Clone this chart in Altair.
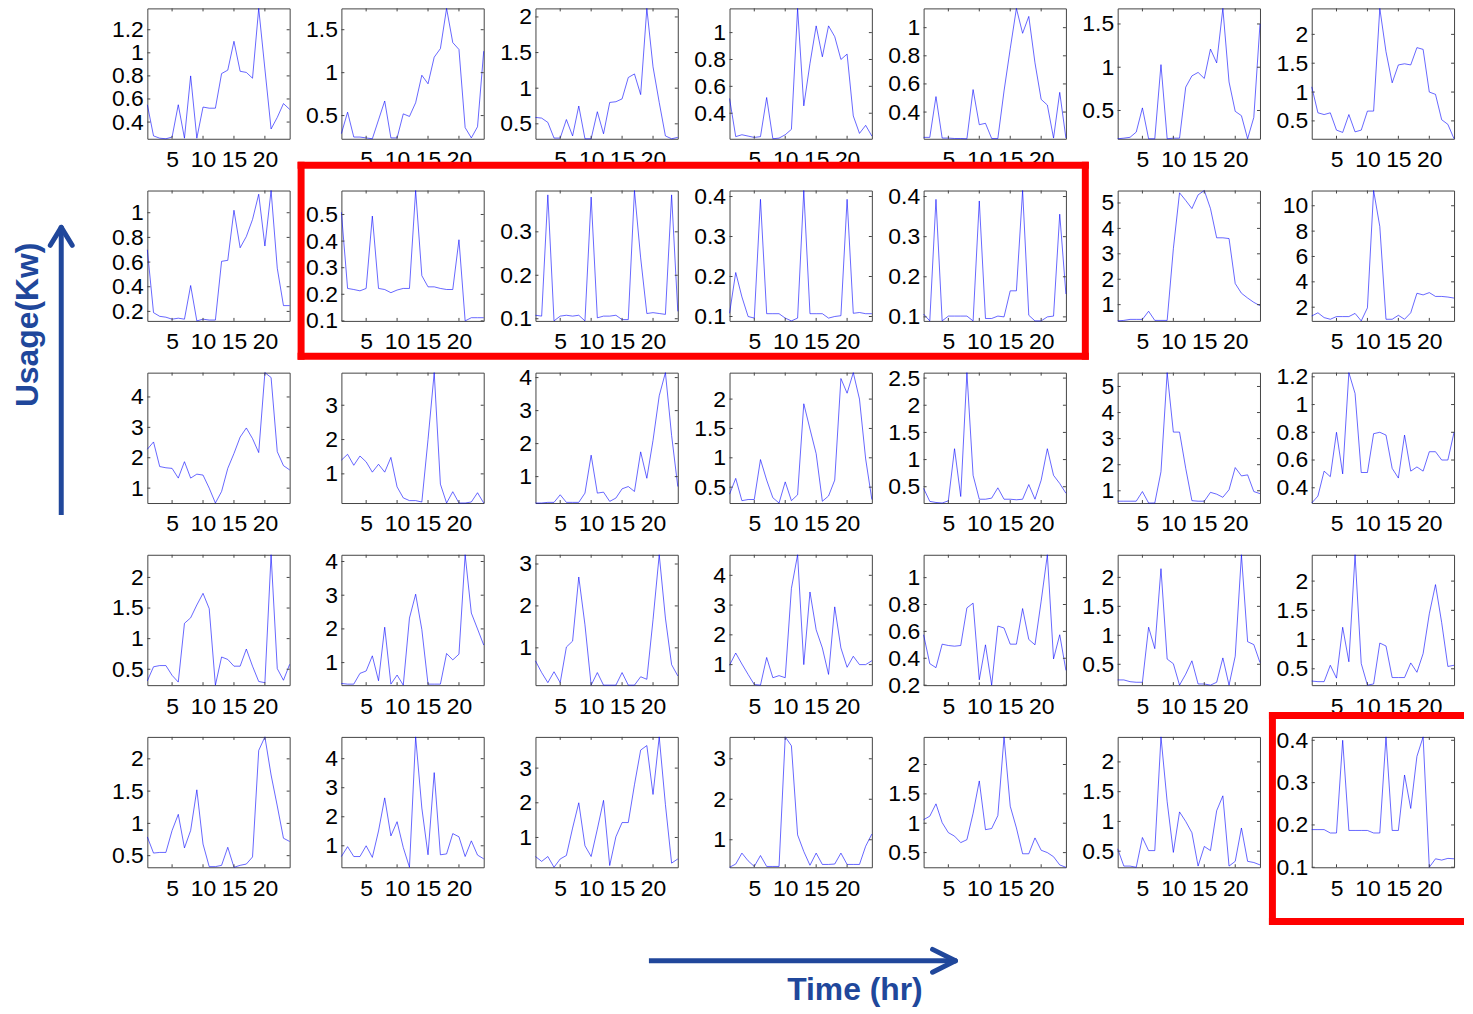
import altair as alt
import pandas as pd

HOURS = list(range(1, 25))
X_TICKS = [5, 10, 15, 20]

# ---- hourly usage (kW) for each of the 35 small panels, row by row ----
p01 = [0.55, 0.28, 0.26, 0.255, 0.27, 0.55, 0.26, 0.80, 0.26, 0.53, 0.52, 0.52, 0.82, 0.85, 1.10, 0.84, 0.83, 0.78, 1.385, 0.86, 0.34, 0.44, 0.56, 0.51]
p02 = [0.29, 0.54, 0.25, 0.25, 0.24, 0.23, 0.45, 0.67, 0.24, 0.24, 0.52, 0.49, 0.65, 0.97, 0.87, 1.18, 1.28, 1.748, 1.35, 1.27, 0.36, 0.24, 0.37, 1.25]
p03 = [0.59, 0.58, 0.52, 0.30, 0.30, 0.56, 0.33, 0.75, 0.29, 0.29, 0.67, 0.36, 0.80, 0.81, 0.85, 1.15, 1.20, 0.91, 2.12, 1.30, 0.80, 0.33, 0.29, 0.31]
p04 = [0.51, 0.226, 0.24, 0.23, 0.22, 0.226, 0.517, 0.21, 0.215, 0.24, 0.28, 1.18, 0.455, 0.77, 1.05, 0.82, 1.05, 0.97, 0.80, 0.84, 0.38, 0.25, 0.31, 0.23]
p05 = [0.22, 0.22, 0.51, 0.215, 0.215, 0.212, 0.212, 0.21, 0.56, 0.31, 0.32, 0.212, 0.212, 0.55, 0.85, 1.137, 0.96, 1.08, 0.75, 0.49, 0.45, 0.215, 0.54, 0.215]
p06 = [0.173, 0.18, 0.19, 0.25, 0.53, 0.173, 0.173, 1.03, 0.173, 0.18, 0.18, 0.77, 0.90, 0.94, 0.87, 1.21, 1.05, 1.68, 0.83, 0.49, 0.44, 0.173, 0.42, 1.5]
p07 = [1.09, 0.64, 0.61, 0.64, 0.34, 0.30, 0.61, 0.31, 0.34, 0.67, 0.67, 2.45, 1.70, 1.16, 1.47, 1.49, 1.47, 1.77, 1.74, 1.00, 0.96, 0.52, 0.44, 0.19]

p08 = [0.70, 0.19, 0.16, 0.153, 0.137, 0.145, 0.137, 0.41, 0.123, 0.137, 0.13, 0.13, 0.606, 0.614, 1.02, 0.716, 0.807, 0.945, 1.15, 0.73, 1.18, 0.55, 0.247, 0.247]
p09 = [0.508, 0.222, 0.218, 0.213, 0.222, 0.494, 0.222, 0.218, 0.206, 0.216, 0.222, 0.222, 0.59, 0.27, 0.228, 0.228, 0.222, 0.218, 0.218, 0.405, 0.10, 0.112, 0.112, 0.112]
p10 = [0.108, 0.106, 0.385, 0.095, 0.106, 0.108, 0.106, 0.108, 0.095, 0.38, 0.102, 0.106, 0.106, 0.108, 0.098, 0.098, 0.395, 0.24, 0.112, 0.114, 0.112, 0.11, 0.385, 0.117]
p11 = [0.108, 0.21, 0.149, 0.10, 0.096, 0.393, 0.107, 0.107, 0.107, 0.096, 0.089, 0.096, 0.415, 0.107, 0.107, 0.107, 0.096, 0.10, 0.102, 0.393, 0.108, 0.11, 0.107, 0.107]
p12 = [0.107, 0.09, 0.393, 0.09, 0.102, 0.102, 0.102, 0.102, 0.09, 0.389, 0.096, 0.096, 0.102, 0.10, 0.165, 0.165, 0.415, 0.104, 0.09, 0.09, 0.10, 0.102, 0.356, 0.157]
p13 = [0.36, 0.38, 0.42, 0.42, 0.42, 0.74, 0.38, 0.38, 0.38, 3.2, 5.40, 5.10, 4.78, 5.32, 5.49, 4.78, 3.63, 3.63, 3.60, 1.83, 1.45, 1.26, 1.09, 0.96]
p14 = [1.31, 1.56, 1.18, 1.05, 1.26, 1.26, 1.26, 1.51, 0.92, 1.95, 11.2, 8.36, 1.05, 1.05, 1.36, 1.05, 1.56, 3.10, 2.97, 3.15, 2.85, 2.85, 2.80, 2.72]

p15 = [2.28, 2.52, 1.71, 1.67, 1.65, 1.33, 1.87, 1.33, 1.46, 1.43, 1.00, 0.51, 0.89, 1.65, 2.14, 2.68, 2.98, 2.63, 2.17, 4.80, 4.64, 2.20, 1.74, 1.60]
p16 = [1.40, 1.57, 1.25, 1.52, 1.35, 1.05, 1.28, 1.05, 1.48, 0.62, 0.30, 0.22, 0.22, 0.18, 2.0, 3.95, 0.70, 0.15, 0.48, 0.15, 0.15, 0.18, 0.45, 0.15]
p17 = [0.20, 0.20, 0.22, 0.22, 0.45, 0.22, 0.22, 0.22, 0.50, 1.65, 0.50, 0.53, 0.25, 0.35, 0.63, 0.70, 0.55, 1.75, 0.95, 2.10, 3.45, 4.15, 2.25, 0.70]
p18 = [0.38, 0.65, 0.27, 0.29, 0.29, 0.97, 0.62, 0.32, 0.23, 0.59, 0.27, 0.37, 1.92, 1.49, 1.07, 0.26, 0.35, 0.62, 2.35, 2.10, 2.45, 2.0, 0.98, 0.29]
p19 = [0.47, 0.23, 0.21, 0.20, 0.24, 1.20, 0.32, 2.60, 0.71, 0.27, 0.27, 0.29, 0.48, 0.27, 0.27, 0.26, 0.27, 0.54, 0.27, 0.62, 1.20, 0.71, 0.56, 0.38]
p20 = [0.60, 0.60, 0.60, 0.60, 0.97, 0.53, 0.53, 1.73, 5.53, 3.25, 3.25, 1.86, 0.62, 0.60, 0.60, 0.94, 0.87, 0.75, 1.04, 1.89, 1.57, 1.61, 0.97, 0.89]
p21 = [0.29, 0.34, 0.52, 0.48, 0.80, 0.50, 1.23, 1.08, 0.51, 0.51, 0.79, 0.80, 0.78, 0.54, 0.47, 0.78, 0.52, 0.55, 0.52, 0.66, 0.66, 0.60, 0.60, 0.80]

p22 = [0.31, 0.54, 0.56, 0.56, 0.40, 0.29, 1.25, 1.34, 1.55, 1.74, 1.49, 0.24, 0.70, 0.66, 0.55, 0.55, 0.83, 0.55, 0.30, 0.28, 2.37, 0.51, 0.32, 0.58]
p23 = [0.38, 0.36, 0.36, 0.68, 0.75, 1.20, 0.46, 2.05, 0.36, 0.63, 0.33, 2.32, 3.03, 1.98, 0.36, 0.36, 0.36, 1.27, 1.08, 1.25, 4.20, 2.47, 2.00, 1.52]
p24 = [0.69, 0.41, 0.17, 0.43, 0.17, 1.02, 1.16, 2.69, 1.55, 0.11, 0.41, 0.11, 0.11, 0.11, 0.41, 0.11, 0.11, 0.31, 0.25, 1.67, 3.22, 1.71, 0.60, 0.33]
p25 = [0.98, 1.39, 1.02, 0.67, 0.33, 0.31, 1.24, 0.56, 0.63, 0.56, 3.56, 4.69, 1.0, 3.44, 2.17, 1.56, 0.67, 2.94, 1.56, 0.91, 1.28, 1.0, 1.0, 1.13]
p26 = [0.575, 0.36, 0.33, 0.505, 0.495, 0.49, 0.495, 0.775, 0.81, 0.24, 0.50, 0.20, 0.64, 0.625, 0.505, 0.505, 0.77, 0.54, 0.50, 0.825, 1.17, 0.395, 0.575, 0.31]
p27 = [0.23, 0.23, 0.20, 0.19, 0.19, 1.14, 0.77, 2.15, 0.59, 0.51, 0.14, 0.33, 0.56, 0.16, 0.16, 0.14, 0.19, 0.61, 0.14, 0.64, 2.39, 0.89, 0.84, 0.53]
p28 = [0.29, 0.28, 0.28, 0.56, 0.34, 1.21, 0.62, 2.45, 0.59, 0.22, 0.24, 0.94, 0.89, 0.35, 0.35, 0.35, 0.60, 0.44, 0.76, 1.44, 1.94, 1.29, 0.54, 0.56]

p29 = [0.79, 0.54, 0.55, 0.55, 0.89, 1.14, 0.62, 0.89, 1.52, 0.68, 0.33, 0.33, 0.35, 0.63, 0.32, 0.35, 0.37, 0.48, 2.13, 2.34, 1.75, 1.27, 0.77, 0.72]
p30 = [0.63, 0.97, 0.63, 0.63, 1.00, 0.60, 1.51, 2.65, 1.34, 1.83, 0.94, 0.26, 4.75, 2.30, 0.69, 3.52, 0.69, 0.72, 1.42, 1.31, 0.63, 1.17, 0.68, 0.55]
p31 = [0.45, 0.31, 0.45, 0.14, 0.38, 0.48, 1.27, 2.00, 0.76, 0.45, 1.24, 2.07, 0.19, 1.02, 1.43, 1.43, 2.52, 3.52, 3.65, 2.24, 3.90, 1.95, 0.26, 0.38]
p32 = [0.32, 0.40, 0.67, 0.48, 0.34, 0.61, 0.34, 0.34, 0.34, 3.54, 3.32, 1.12, 0.71, 0.37, 0.67, 0.39, 0.39, 0.40, 0.67, 0.39, 0.39, 0.39, 0.84, 1.14]
p33 = [1.06, 1.12, 1.33, 1.01, 0.84, 0.78, 0.67, 0.72, 1.17, 1.72, 0.89, 0.91, 1.13, 2.47, 1.29, 0.92, 0.48, 0.48, 0.75, 0.54, 0.50, 0.43, 0.29, 0.25]
p34 = [0.54, 0.25, 0.25, 0.23, 0.73, 0.51, 0.51, 2.42, 1.33, 0.48, 1.16, 1.00, 0.81, 0.25, 0.58, 0.51, 1.18, 1.43, 0.25, 0.33, 0.89, 0.33, 0.31, 0.27]
p35 = [0.189, 0.189, 0.189, 0.181, 0.181, 0.40, 0.187, 0.187, 0.187, 0.187, 0.181, 0.181, 0.408, 0.187, 0.187, 0.318, 0.239, 0.362, 0.408, 0.10, 0.12, 0.117, 0.121, 0.12]

# ---- y tick labels of each panel ----
t01 = [0.4, 0.6, 0.8, 1, 1.2]
t02 = [0.5, 1, 1.5]
t03 = [0.5, 1, 1.5, 2]
t04 = [0.4, 0.6, 0.8, 1]
t05 = [0.4, 0.6, 0.8, 1]
t06 = [0.5, 1, 1.5]
t07 = [0.5, 1, 1.5, 2]
t08 = [0.2, 0.4, 0.6, 0.8, 1]
t09 = [0.1, 0.2, 0.3, 0.4, 0.5]
t10 = [0.1, 0.2, 0.3]
t11 = [0.1, 0.2, 0.3, 0.4]
t12 = [0.1, 0.2, 0.3, 0.4]
t13 = [1, 2, 3, 4, 5]
t14 = [2, 4, 6, 8, 10]
t15 = [1, 2, 3, 4]
t16 = [1, 2, 3]
t17 = [1, 2, 3, 4]
t18 = [0.5, 1, 1.5, 2]
t19 = [0.5, 1, 1.5, 2, 2.5]
t20 = [1, 2, 3, 4, 5]
t21 = [0.4, 0.6, 0.8, 1, 1.2]
t22 = [0.5, 1, 1.5, 2]
t23 = [1, 2, 3, 4]
t24 = [1, 2, 3]
t25 = [1, 2, 3, 4]
t26 = [0.2, 0.4, 0.6, 0.8, 1]
t27 = [0.5, 1, 1.5, 2]
t28 = [0.5, 1, 1.5, 2]
t29 = [0.5, 1, 1.5, 2]
t30 = [1, 2, 3, 4]
t31 = [1, 2, 3]
t32 = [1, 2, 3]
t33 = [0.5, 1, 1.5, 2]
t34 = [0.5, 1, 1.5, 2]
t35 = [0.1, 0.2, 0.3, 0.4]

PANELS = [p01, p02, p03, p04, p05, p06, p07, p08, p09, p10, p11, p12, p13, p14,
          p15, p16, p17, p18, p19, p20, p21, p22, p23, p24, p25, p26, p27, p28,
          p29, p30, p31, p32, p33, p34, p35]
TICKS = [t01, t02, t03, t04, t05, t06, t07, t08, t09, t10, t11, t12, t13, t14,
         t15, t16, t17, t18, t19, t20, t21, t22, t23, t24, t25, t26, t27, t28,
         t29, t30, t31, t32, t33, t34, t35]

Y_TITLE = "Usage(Kw)"
X_TITLE = "Time (hr)"

# ---- styling ----
W, H = 143, 131
GAP = 52
LINE = "#0000ff"
FRAME = "#444444"
RED = "#ff0000"
NAVY = "#20479b"
FONT = "Liberation Sans"
TICK_FONT = 23
ONE = pd.DataFrame({"k": [0]})


def seg(x1, y1, x2, y2, color, width, cap="butt"):
    return alt.Chart(ONE).mark_rule(color=color, strokeWidth=width, strokeCap=cap).encode(
        x=alt.value(x1), y=alt.value(y1), x2=alt.value(x2), y2=alt.value(y2))


def bar(x1, y1, x2, y2, color):
    return alt.Chart(ONE).mark_rect(color=color).encode(
        x=alt.value(x1), x2=alt.value(x2), y=alt.value(y1), y2=alt.value(y2))


def caption(text, x, y, angle):
    return alt.Chart(ONE).mark_text(
        text=text, font=FONT, fontSize=32, fontWeight="bold", color=NAVY,
        align="center", baseline="alphabetic", angle=angle
    ).encode(x=alt.value(x), y=alt.value(y))


# annotations drawn in pixel space of a chosen panel
EXTRAS = {i: [] for i in range(35)}
# white anchor fixing the top-left corner of the page + y caption & arrow
EXTRAS[0] += [
    bar(-140, -20, -139, -19, "white"),
    seg(-86.5, 509, -86.5, 221, NAVY, 5),
    seg(-97.5, 238, -86.5, 220, NAVY, 5, "round"),
    seg(-75.5, 238, -86.5, 220, NAVY, 5, "round"),
    caption(Y_TITLE, -110, 318, 270),
]
# red box around row 2, panels 2-5
EXTRAS[8] += [
    bar(-44, -29, -37, 170, RED),
    bar(744, -29, 751, 170, RED),
    bar(-44, -29, 751, -22, RED),
    bar(-44, 163, 751, 170, RED),
]
# x caption & arrow
EXTRAS[31] += [
    seg(-81, 225, 226, 225, NAVY, 5),
    seg(204, 213.5, 227, 225, NAVY, 5, "round"),
    seg(204, 236.5, 227, 225, NAVY, 5, "round"),
    caption(X_TITLE, 126, 264, 0),
]
# red box around the last panel (open on the right edge)
EXTRAS[34] += [
    bar(-43, -25, -36, 189, RED),
    bar(-43, -25, 153, -18, RED),
    bar(-43, 182, 153, 189, RED),
]


def x_axis():
    return alt.Axis(values=X_TICKS, format="d", labelOverlap=False, labelFlush=False,
                    labelSeparation=-12, labelBound=False)


def y_axis(i):
    return alt.Axis(values=TICKS[i], format=".2~f", labelOverlap=False, labelFlush=False,
                    labelSeparation=-12, labelBound=False)


def panel(i):
    df = pd.DataFrame({"hour": HOURS, "usage": PANELS[i]})
    line = alt.Chart(df).mark_line(color=LINE, strokeWidth=0.6).encode(
        x=alt.X("hour:Q", title=None,
                scale=alt.Scale(domain=[1, 24], nice=False, zero=False),
                axis=x_axis()),
        y=alt.Y("usage:Q", title=None,
                scale=alt.Scale(zero=False, nice=False),
                axis=y_axis(i)),
    )
    yt = pd.DataFrame({"t": TICKS[i]})
    xt = pd.DataFrame({"t": X_TICKS})
    lt = alt.Chart(yt).mark_rule(color=FRAME, strokeWidth=1).encode(
        y=alt.Y("t:Q", title=None, axis=y_axis(i)), x=alt.value(0), x2=alt.value(3))
    rt = alt.Chart(yt).mark_rule(color=FRAME, strokeWidth=1).encode(
        y=alt.Y("t:Q", title=None, axis=y_axis(i)), x=alt.value(W - 3), x2=alt.value(W))
    bt = alt.Chart(xt).mark_rule(color=FRAME, strokeWidth=1).encode(
        x=alt.X("t:Q", title=None, axis=x_axis()), y=alt.value(H - 3), y2=alt.value(H))
    tt = alt.Chart(xt).mark_rule(color=FRAME, strokeWidth=1).encode(
        x=alt.X("t:Q", title=None, axis=x_axis()), y=alt.value(0), y2=alt.value(3))
    return alt.layer(line, lt, rt, bt, tt, *EXTRAS[i]).properties(width=W, height=H)


chart = alt.concat(*[panel(i) for i in range(35)], columns=7, spacing=GAP, bounds="flush").properties(
    padding={"left": -1, "top": -23, "right": 0, "bottom": 0}
).configure_view(
    stroke=FRAME, strokeWidth=1
).configure_axis(
    labelFont=FONT, labelFontSize=TICK_FONT, labelColor="black", tickSize=0,
    domain=False, grid=False, labelFlush=False, labelOverlap=False
).configure_axisX(
    labelPadding=10
).configure_axisY(
    labelPadding=4
)

chart.save("out.html", embed_options={"renderer": "svg", "actions": False})
